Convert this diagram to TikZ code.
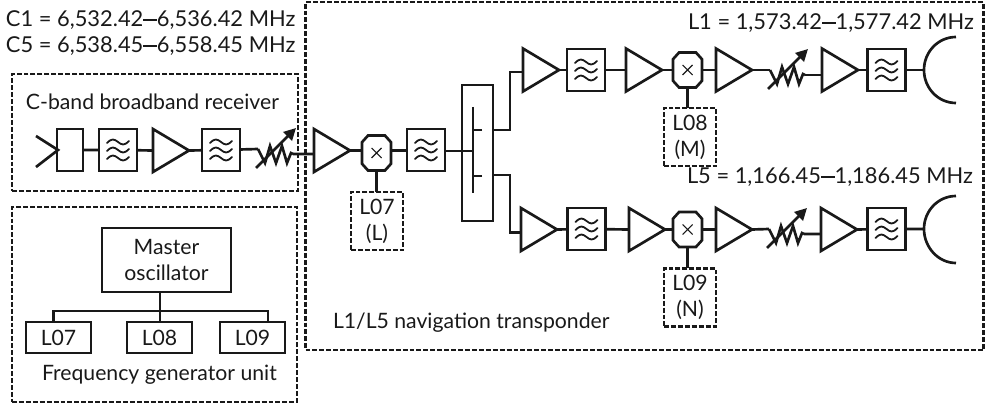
\documentclass[tikz,border=0pt]{standalone}
\usepackage{fontspec}
\setmainfont{Lato}
\usetikzlibrary{shapes.geometric,shapes.misc,arrows.meta,calc}
\tikzset{
  dbox/.style={draw=black!90,line width=2pt,dash pattern=on 3.7pt off 1.5pt},
  solidbox/.style={draw=black!90,line width=2pt,inner sep=0pt,outer sep=0pt},
  ampl/.style={draw=black!90,line width=2pt,isosceles triangle,isosceles triangle stretches,
    minimum width=32.2pt,minimum height=27pt,inner sep=0pt,outer sep=0pt,anchor=west,shape border rotate=0},
  filtb/.style={solidbox,rectangle,minimum width=28.5pt,minimum height=31.5pt},
  mixb/.style={inner sep=0pt,outer sep=0pt,minimum width=21.7pt,minimum height=26.2pt},
  lbl/.style={inner sep=0pt,outer sep=0pt,font=\fsz,text=black!90},
  frq/.style={inner sep=0pt,outer sep=0pt,font=\fsq,text=black!90},
  lobox/.style={dbox,font=\fsz,align=center,inner sep=0pt,outer sep=0pt,
    minimum width=39pt,minimum height=43.5pt,text=black!90},
  conn/.style={draw=black!90,line width=2pt}
}
\newcommand\fsz{\fontsize{15.9}{19.5}\selectfont}
\newcommand\fsq{\fontsize{16.4}{19.5}\selectfont}
\newcommand\fdash{\rule[0.26em]{0.62em}{0.09em}}
\newcommand\filt[3]{\node[filtb] (#1) at (#2,#3) {};
  \begin{scope}[shift={(#2,#3)}]
  \foreach \d in {-8,0,8}
    \draw[black!90,line width=1.35pt,line cap=round] (-11,\d+1) .. controls (-6,\d-4) and (-4,\d-3) .. (0,\d) .. controls (4,\d+3) and (6,\d+4) .. (11,\d-1);
  \end{scope}}
\newcommand\mixr[3]{\node[mixb] (#1) at (#2,#3) {};
  \draw[conn,line join=miter] (#1.north west) ++(6,0) -- ([xshift=-4.5pt]#1.north east) -- ([yshift=-5pt]#1.north east) -- ([yshift=5pt]#1.south east) -- ([xshift=-4.5pt]#1.south east) -- ([xshift=4.5pt]#1.south west) -- ([yshift=5pt]#1.south west) -- ([yshift=-5pt]#1.north west) -- cycle;
  \begin{scope}[shift={(#2,#3)}]
  \draw[black!90,line width=.8pt] (-5,-5) -- (5,5) (-5,5) -- (5,-5);
  \end{scope}}
\newcommand\attn[3]{\begin{scope}[shift={(#2,#3)}]
  \coordinate (#1-a) at (0,0);
  \coordinate (#1-b) at (35,5);
  \draw[conn,line join=miter] (#1-a) -- (7,14) -- (12,-3) -- (18,14) -- (24,-3) -- (29,14) -- (33,4) -- (#1-b);
  \draw[conn,-{Triangle[length=9pt,width=9pt]}] (-2,19) -- (38,-21);
  \end{scope}}
\begin{document}
\begin{tikzpicture}[x=0.75pt,y=-0.75pt]
\useasboundingbox (0,0) rectangle (986,406);
% frames
\node[dbox,rectangle,inner sep=0pt,minimum width=214.5pt,minimum height=87.75pt] (rx) at (155,132.5) {};
\node[dbox,rectangle,inner sep=0pt,minimum width=213.75pt,minimum height=146.25pt] (fg) at (154.5,304.5) {};
\node[dbox,rectangle,inner sep=0pt,minimum width=508.5pt,minimum height=261pt] (nav) at (644.5,176) {};
% texts
\node[frq,anchor=base west] (t1) at (6,27) {C1 = 6,532.42\fdash 6,536.42 MHz};
\node[frq,anchor=base west] (t2) at (6,53) {C5 = 6,538.45\fdash 6,558.45 MHz};
\node[frq,anchor=base west] (t3) at (688,30) {L1 = 1,573.42\fdash 1,577.42 MHz};
\node[frq,anchor=base west] (t4) at (687,184) {L5 = 1,166.45\fdash 1,186.45 MHz};
\node[lbl,anchor=base west] (t5) at (26,110) {C-band broadband receiver};
\node[lbl,anchor=base west] (t6) at (42,380) {Frequency generator unit};
\node[lbl,anchor=base west] (t7) at (333,328) {L1/L5 navigation transponder};
% receiver chain
\coordinate (ant1) at (36,136); \coordinate (ant2) at (58,150); \coordinate (ant3) at (36,167);
\draw[conn] (ant1) -- (ant2) -- (ant3);
\node[solidbox,rectangle,minimum width=19.5pt,minimum height=31.5pt] (dn) at (70,150) {};
\filt{f1}{118}{150}
\node[ampl] (a0) at (153,150.5) {};
\filt{f2}{221}{150}
\attn{v0}{258}{149}
\node[ampl] (a1) at (314,150.5) {};
\mixr{m0}{376.5}{153}
\filt{f3}{426}{150}
\node[solidbox,rectangle,minimum width=23.25pt,minimum height=102pt] (sp) at (477.5,153) {};
\coordinate (spc) at (473,151);
\coordinate (st) at (473,107); \coordinate (sb) at (473,193);
\coordinate (s1i) at (482,130); \coordinate (s2i) at (482,176);
\draw[conn] (st) -- (sb);
\draw[conn] (s1i) -- (s1i -| st) (s2i) -- (s2i -| st);
\draw[conn] (dn) -- (f1) (f1) -- (a0.west) (a0.east) -- (f2) (f2) -- (v0-a) (v0-b) -- (v0-b -| a1.west);
\draw[conn] (a1.east) -- (m0.west |- a1.east) (m0.east |- a1.east) -- (f3.west |- a1.east);
\draw[conn] (f3.east |- spc) -- (spc);
% upper branch
\node[ampl] (a2) at (523,70) {};
\filt{f4}{586}{70}
\node[ampl] (a3) at (626,70) {};
\mixr{m1}{687.5}{70}
\node[ampl] (a4) at (716,70) {};
\attn{v1}{770}{70}
\node[ampl] (a5) at (822,70) {};
\filt{f5}{886.5}{70}
\coordinate (d1t) at (956,37); \coordinate (d1m) at (924,70); \coordinate (d1b) at (956,103);
\draw[conn] (d1t) .. controls (938,37) and (924,52) .. (d1m) .. controls (924,88) and (938,103) .. (d1b);
\draw[conn] (a2.east) -- (f4) (f4) -- (a3.west) (a3.east) -- (m1) (m1) -- (a4.west) (a4.east) -- (v1-a) (v1-b) -- (v1-b -| a5.west) (a5.east) -- (f5) (f5) -- (d1m);
\coordinate (o1) at (493,130); \coordinate (o2) at (493,175);
\draw[conn] (o1) -- ++(17,0) |- ([yshift=-1.5pt]a2.west);
% lower branch
\node[ampl] (b2) at (521,229.5) {};
\filt{g4}{586.5}{229}
\node[ampl] (b3) at (629,229.5) {};
\mixr{m2}{687.5}{229.5}
\node[ampl] (b4) at (716,229.5) {};
\attn{v2}{769}{229}
\node[ampl] (b5) at (821,229.5) {};
\filt{g5}{886.5}{229}
\coordinate (d2t) at (956,196); \coordinate (d2m) at (924,229); \coordinate (d2b) at (956,263);
\draw[conn] (d2t) .. controls (938,196) and (924,211) .. (d2m) .. controls (924,247) and (938,263) .. (d2b);
\draw[conn] (b2.east) -- (g4) (g4) -- (b3.west) (b3.east) -- (m2) (m2) -- (b4.west) (b4.east) -- (v2-a) (v2-b) -- (v2-b -| b5.west) (b5.east) -- (g5) (g5) -- (d2m);
\draw[conn] (o2) -- ++(17,0) |- ([yshift=-2.5pt]b2.west);
% LO boxes
\node[lobox] (l0) at (377,221) {L07\\(L)};
\node[lobox] (l1) at (690,137) {L08\\(M)};
\node[lobox] (l2) at (690,297.5) {L09\\(N)};
\draw[conn] (l0.north -| m0.south) -- (m0.south);
\draw[conn] (l1.north -| m1.south) -- (m1.south);
\draw[conn] (l2.north -| m2.south) -- (m2.south);
% frequency generator
\node[solidbox,rectangle,align=center,font=\fsz,text=black!90,minimum width=96.75pt,minimum height=48pt] (mo) at (166.5,260) {Master\\oscillator};
\node[solidbox,rectangle,font=\fsz,text=black!90,minimum width=48.75pt,minimum height=23.25pt] (g0) at (58.5,337.5) {L07};
\node[solidbox,rectangle,font=\fsz,text=black!90,minimum width=48.75pt,minimum height=23.25pt] (g1) at (159.5,337.5) {L08};
\node[solidbox,rectangle,font=\fsz,text=black!90,minimum width=48.75pt,minimum height=23.25pt] (g2) at (252.5,337.5) {L09};
\coordinate (bus) at (160,311);
\draw[conn] (bus |- mo.south) -- (bus |- g1.north);
\draw[conn] ([xshift=-4pt]g0.north) |- (bus) -| ([xshift=11.6pt]g2.north);
\end{tikzpicture}
\end{document}
